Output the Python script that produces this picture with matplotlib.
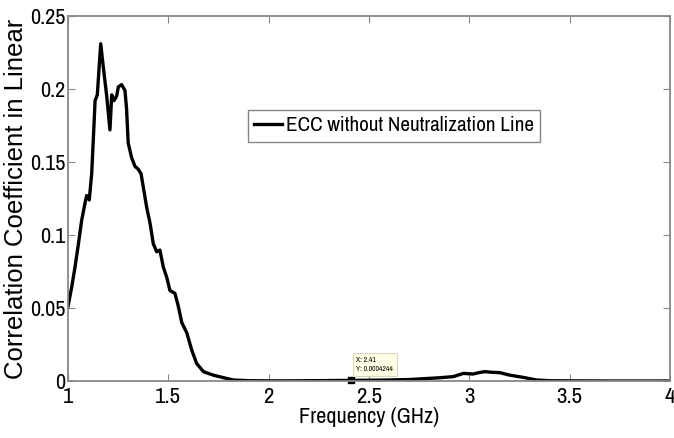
import matplotlib
matplotlib.use("Agg")
import matplotlib.pyplot as plt

NARROW = ['Archivo Narrow', 'Liberation Sans', 'DejaVu Sans']
WIDE = ['Liberation Sans', 'DejaVu Sans']
plt.rcParams['font.family'] = NARROW

freq = [1.000, 1.018, 1.035, 1.052, 1.068, 1.085, 1.093, 1.106, 1.118, 1.126, 1.135,
        1.146, 1.163, 1.176, 1.193, 1.209, 1.218, 1.229, 1.242, 1.251, 1.267, 1.284,
        1.292, 1.300, 1.317, 1.334, 1.350, 1.364, 1.375, 1.392, 1.409, 1.425, 1.442,
        1.458, 1.475, 1.492, 1.508, 1.533, 1.550, 1.567, 1.592, 1.617, 1.641, 1.675,
        1.724, 1.774, 1.824, 1.900, 2.000, 2.100, 2.200, 2.300, 2.410, 2.500, 2.600,
        2.700, 2.750, 2.850, 2.920, 2.970, 3.019, 3.050, 3.078, 3.110, 3.152, 3.202,
        3.268, 3.335, 3.400, 3.500, 3.700, 4.000]
ecc = [0.051, 0.064, 0.078, 0.094, 0.110, 0.122, 0.127, 0.124, 0.142, 0.165, 0.192,
       0.196, 0.231, 0.215, 0.195, 0.172, 0.196, 0.192, 0.195, 0.2015, 0.203, 0.199,
       0.186, 0.163, 0.153, 0.147, 0.145, 0.142, 0.133, 0.119, 0.108, 0.094, 0.0885,
       0.0897, 0.078, 0.071, 0.062, 0.060, 0.051, 0.040, 0.033, 0.021, 0.012, 0.0064,
       0.004, 0.0023, 0.0007, 0.0002, 0.0001, 0.0001, 0.0002, 0.0003, 0.0004244, 0.0005, 0.0007,
       0.0010, 0.0014, 0.0022, 0.0030, 0.0052, 0.0048, 0.0058, 0.0064, 0.0060, 0.0057, 0.0040,
       0.0025, 0.0007, 0.0002, 0.0001, 0.0000, 0.0000]

xticks = [1, 1.5, 2, 2.5, 3, 3.5, 4]
xtick_labels = ["1", "1.5", "2", "2.5", "3", "3.5", "4"]
yticks = [0, 0.05, 0.1, 0.15, 0.2, 0.25]
ytick_labels = ["0", "0.05", "0.1", "0.15", "0.2", "0.25"]

tip_x = 2.41
tip_y = 0.0004244

fig = plt.figure(figsize=(6.74, 4.38), dpi=100)
ax = fig.add_axes([68/674, 1-381/438, (670-68)/674, (381-16)/438])
ax.plot(freq, ecc, color='black', lw=2.4, label='ECC without Neutralization Line')
ax.set_xlim(1, 4)
ax.set_ylim(0, 0.25)
ax.set_xticks(xticks)
ax.set_xticklabels(xtick_labels)
ax.set_yticks(yticks)
ax.set_yticklabels(ytick_labels)
ax.tick_params(direction='in', top=True, right=True, length=5, color='#888888')
ax.tick_params(axis='x', pad=4, labelsize=16.5)
ax.tick_params(axis='y', pad=2, labelsize=16)
for s in ax.spines.values():
    s.set_color('#888888')
    s.set_linewidth(1.3)
ax.set_xlabel('Frequency (GHz)', fontsize=16, labelpad=0)
ax.set_ylabel('Correlation Coefficient in Linear', fontsize=18.5, labelpad=1,
              family=WIDE)

leg = ax.legend(loc='upper left', bbox_to_anchor=((248-68)/602, 1-(110-16)/365),
                fontsize=15.2, frameon=True, fancybox=False, handlelength=1.3,
                handletextpad=0.2, borderpad=0.3, borderaxespad=0)
leg.get_frame().set_edgecolor('#666666')
leg.get_frame().set_linewidth(1.0)

ax.plot([tip_x], [tip_y], marker='s', color='black', ms=4, clip_on=False)
ax.annotate("X: 2.41\nY: 0.0004244", xy=(tip_x, tip_y), xytext=(4, 6),
            textcoords='offset points', fontsize=5.5, va='bottom', ha='left',
            linespacing=1.6,
            bbox=dict(boxstyle='square,pad=0.5', fc='#ffffe6', ec='#d8d8c0', lw=0.8))

fig.savefig('out.png', dpi=100)
